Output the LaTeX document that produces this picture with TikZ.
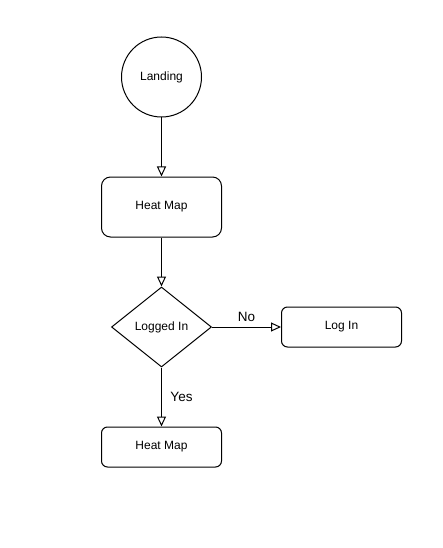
\documentclass[tikz,border=0pt]{standalone}
\usepackage{fontspec}
\setmainfont{Liberation Sans}
\usetikzlibrary{arrows.meta,shapes.geometric}
\begin{document}
\begin{tikzpicture}[x=1pt,y=-1pt,
  box/.style={draw=black,line width=1pt,minimum width=120pt,inner sep=0pt,font=\fontsize{12}{14}\selectfont},
  circ/.style={draw=black,line width=1pt,circle,minimum size=80pt,inner sep=0pt,font=\fontsize{12}{14}\selectfont},
  dia/.style={draw=black,line width=1pt,diamond,minimum width=100pt,minimum height=80pt,inner sep=0pt,aspect=1.25,font=\fontsize{12}{14}\selectfont},
  conn/.style={draw=black,line width=1pt,-{Triangle[open,length=10pt,width=9pt,line width=1pt]}},
  lbl/.style={font=\fontsize{13.5}{15}\selectfont}
]
\useasboundingbox (0,0) rectangle (442,548);
\node[circ] (landing) at (161.5,77) {Landing};
\node[box,minimum height=60pt,rounded corners=9pt] (heat1) at (161.5,207) {Heat Map};
\node[dia] (logged) at (161.5,327) {Logged In};
\node[box,minimum height=40pt,rounded corners=6pt] (login) at (341.5,327) {Log In};
\node[box,minimum height=40pt,rounded corners=6pt] (heat2) at (161.5,447) {Heat Map};
\draw[conn] (landing.south) -- (heat1.north);
\draw[conn] (heat1.south) -- (logged.north);
\draw[conn] (logged.east) -- (login.west);
\draw[conn] (logged.south) -- (heat2.north);
\node[lbl] (no) at (246.5,317) {No};
\node[lbl] (yes) at (181.5,397) {Yes};
\end{tikzpicture}
\end{document}
